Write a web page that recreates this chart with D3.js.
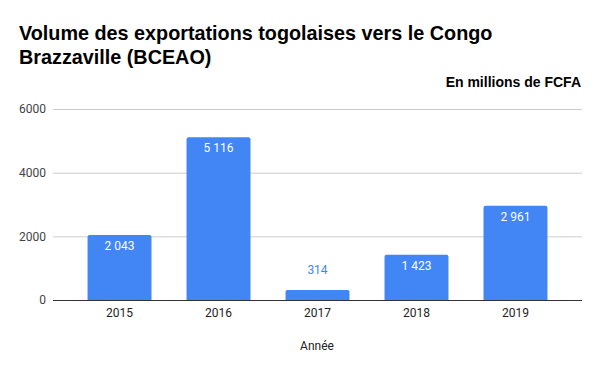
<!DOCTYPE html>
<html>
<head>
<meta charset="utf-8">
<script src="https://cdn.jsdelivr.net/npm/d3@7"></script>
<style>
  body { margin: 0; background: #fff; }
</style>
</head>
<body>
<div id="chart"></div>
<script>
const years = ['2015', '2016', '2017', '2018', '2019'];
const exportsValues = [2043, 5116, 314, 1423, 2961];
const yTicks = [0, 2000, 4000, 6000];

const width = 600, height = 371;
const margin = {top: 109, right: 18, bottom: 71, left: 53};
const bodyFont = 'Roboto, "Liberation Sans", Arial, sans-serif';
const titleFont = '"Liberation Sans", Arial, sans-serif';

const svg = d3.select('#chart')
    .append('svg')
    .attr('width', width)
    .attr('height', height)
    .style('font-family', bodyFont);

svg.append('rect').attr('width', width).attr('height', height).attr('fill', '#fff');

// titre
const title = svg.append('text')
    .attr('x', 19)
    .attr('y', 40)
    .attr('font-size', 19.8)
    .attr('font-weight', 'bold')
    .style('font-family', titleFont)
    .attr('fill', '#000');
title.append('tspan').attr('x', 19).text('Volume des exportations togolaises vers le Congo');
title.append('tspan').attr('x', 19).attr('dy', 24).text('Brazzaville (BCEAO)');

svg.append('text')
    .attr('x', 581)
    .attr('y', 87)
    .attr('text-anchor', 'end')
    .attr('font-size', 14)
    .attr('font-weight', 'bold')
    .style('font-family', titleFont)
    .attr('fill', '#000')
    .text('En millions de FCFA');

let xScale = d3.scaleBand()
    .domain(years)
    .range([margin.left, width - margin.right])
    .paddingInner(0.354)
    .paddingOuter(0.349);

let yScale = d3.scaleLinear()
    .domain([0, 6000])
    .range([height - margin.bottom, margin.top]);

// grille
let yAxis = d3.axisLeft(yScale)
    .tickValues(yTicks)
    .tickSize(-(width - margin.left - margin.right))
    .tickPadding(7)
    .tickFormat(d3.format('d'));

let yAxisGroup = svg.append('g')
    .attr('transform', `translate(${margin.left},0)`)
    .call(yAxis);
yAxisGroup.attr('font-family', null);
yAxisGroup.select('.domain').remove();
yAxisGroup.selectAll('line').attr('stroke', '#cccccc');
yAxisGroup.selectAll('text')
    .attr('font-size', 12)
    .attr('fill', '#444');

// barres
svg.append('g')
    .selectAll('path')
    .data(years)
    .join('path')
    .attr('fill', '#4285f4')
    .attr('d', (d, i) => {
        const x0 = xScale(d), w = xScale.bandwidth();
        const y0 = yScale(exportsValues[i]), y1 = yScale(0);
        const r = Math.min(2, (y1 - y0) / 2);
        return `M${x0},${y1}V${y0 + r}Q${x0},${y0} ${x0 + r},${y0}H${x0 + w - r}Q${x0 + w},${y0} ${x0 + w},${y0 + r}V${y1}Z`;
    });

// étiquettes de valeurs
const fmt = v => d3.format(',')(v).replace(',', '\u00a0');
svg.append('g')
    .selectAll('text')
    .data(years)
    .join('text')
    .attr('x', d => xScale(d) + xScale.bandwidth() / 2)
    .attr('y', (d, i) => {
        const top = yScale(exportsValues[i]);
        return (yScale(0) - top) > 30 ? top + 15 : top - 16;
    })
    .attr('text-anchor', 'middle')
    .attr('font-size', 12)
    .attr('fill', (d, i) => (yScale(0) - yScale(exportsValues[i])) > 30 ? '#fff' : '#4285f4')
    .text((d, i) => fmt(exportsValues[i]));

// axe x
let xAxis = d3.axisBottom(xScale).tickSize(0).tickPadding(8);
let xAxisGroup = svg.append('g')
    .attr('transform', `translate(0,${height - margin.bottom})`)
    .call(xAxis);
xAxisGroup.attr('font-family', null);
xAxisGroup.select('.domain').attr('stroke', '#333').attr('d', `M${margin.left},0.5H${width - margin.right}`);
xAxisGroup.selectAll('text')
    .attr('font-size', 12)
    .attr('fill', '#222');

svg.append('text')
    .attr('x', 317)
    .attr('y', 350)
    .attr('text-anchor', 'middle')
    .attr('font-size', 12)
    .attr('fill', '#222')
    .text('Année');
</script>
</body>
</html>
